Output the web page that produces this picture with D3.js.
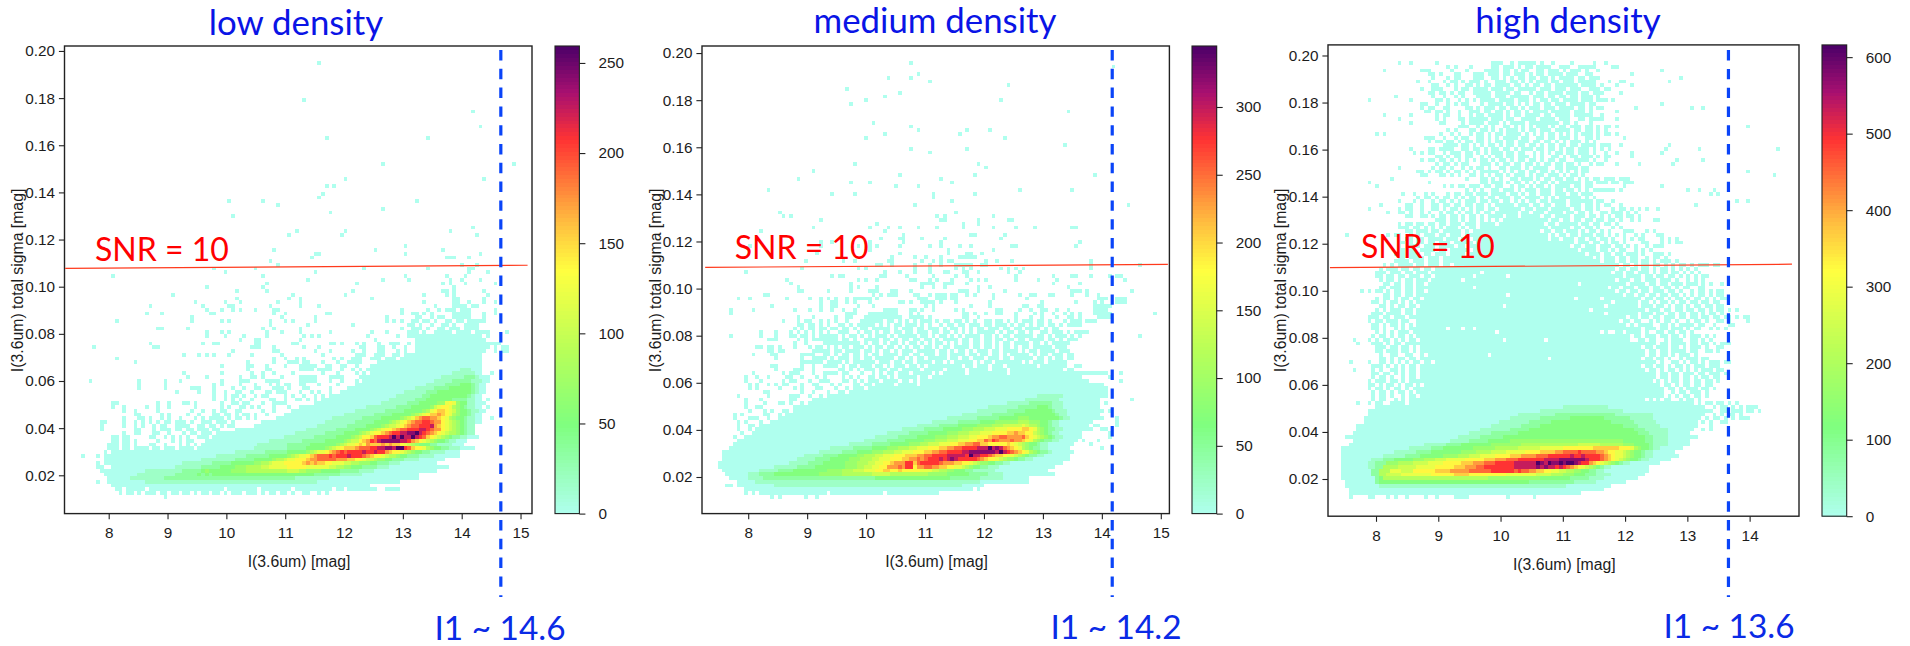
<!DOCTYPE html>
<html>
<head>
<meta charset="utf-8">
<script src="https://cdn.jsdelivr.net/npm/d3@7"></script>
<style>
  body { margin: 0; background: #fff; }
  svg { display: block; }
  .tick text, .axis-label { font-family: "Liberation Sans", Arial, sans-serif; fill: #1c1c1c; }
  .note { font-family: Lato, sans-serif; }
</style>
</head>
<body>
<script>
// Cells. Sparse rows: [row, col, col, ...] single count cells.
// Dense rows: [row, startCol, levels], levels are hex 0-f of the panel's top count, "." is empty, "0x12" repeats.
const xTicksLow = [8, 9, 10, 11, 12, 13, 14, 15];
const xTicksHigh = [8, 9, 10, 11, 12, 13, 14];
const yTicks = [0.02, 0.04, 0.06, 0.08, 0.10, 0.12, 0.14, 0.16, 0.18, 0.20];
const lowCountTicks = [0, 50, 100, 150, 200, 250];
const mediumCountTicks = [0, 50, 100, 150, 200, 250, 300];
const highCountTicks = [0, 100, 200, 300, 400, 500, 600];
const topCounts = [259.4, 345, 616];
const titles = ["low density", "medium density", "high density"];
const limitLabels = ["I1 ~ 14.6", "I1 ~ 14.2", "I1 ~ 13.6"];
const limits = [14.665, 14.176, 13.66];
const lowSnr = [[7.26, 0.1078], [15.12, 0.1091]];
const mediumSnr = [[7.27, 0.109], [15.12, 0.1103]];
const highSnr = [[7.26, 0.1098], [14.68, 0.1113]];

// binning: first mag, mag step, top sigma, sigma step
const lowBins = [7.2743, 0.06374, 0.2021, 0.001587];
const mediumBins = [7.2326, 0.06362, 0.2030, 0.001588];
const highBins = [7.2616, 0.06022, 0.2040, 0.00159];

const countStops = [0, 0.19, 0.35, 0.52, 0.62, 0.8, 0.9, 1];
const countColors = ["#afffee", "#7fff7f", "#b8ff58", "#ffff40", "#ffc040", "#ff3333", "#a81070", "#4a0068"];

const lowSparse = [
  [4,67],[14,63],[17,108],[21,110],[24,69,96],[31,84,119],[35,74,111],[37,69,71],[39,68],[40,67],[41,43,52,93],[42,56],[43,84],[44,70],[45,44],
  [48,108],[49,61,74,102],[50,59,73,109],[53,90],[54,55,82,100],[55,66,67,90,110],[56,65,101,102,103,107],[57,54],[58,56,105,109],
  [59,39,50,79,96,107,108],[60,42,66,107,112],[61,12,52,90,101,106],[62,64,84,91,102,105,110],[63,53,77,100,102,106,114],[64,37,52,103],
  [65,45,53,76,100,101,103,111],[66,28,60,74,95,101,103,112],[67,45,59,62,81,103,104,111],[68,34,42,46,56,62,95,103,104,107,111,114],
  [69,22,36,43,44,54,62,67,98,103,104,105,106,108,109],[70,37,41,44,46,50,55,56,89,96,99,101,102,103,105,106,107,114],
  [71,21,25,38,39,55,58,69,70,89,92,93,95,97,103,104,105,106,107,111,114],[72,33,57,66,85,93,94,97,99,100,103,104,105,106,107,111],
  [73,13,33,41,43,54,58,60,66,85,87],[74,54,64,76],[75,24,25,32,52,55,62],[76,37,41,43,53,57,62,70,81,85,117],[77,37,42,47,53,63,65,67,80,88],
  [78,46,50,51,62,82],[79,22,36,39,40,50,51,60,61,70,71,73,77,79,83,86,87,88],[80,7,23,24,49,50,51,55,63,67,78,79,83,84,87,90],
  [81,44,55,56,66,70,76,79,83,84,88],[82,31,35,37,39,43,49,57,68,77,78,79,82,83,84],[83,13,55,58,61,63,71,73,76,77,78,81,82,83],
  [84,18,48,55,59,60,61,63,64,68,72,75,76,77,78],[85,41,48,49,53,58,62,63,64,65,66,69,70,73,74,77],[86,48,53,54,62,63,64,65,67,68,69,70,73,76,78],
  [87,31,41,49,52,55,60,68,72,77,79,113],[88,32,37,46,49,50,52,57,62,63,64,65,66,70,71,72,73],[89,6,19,26,30,41,46,47,48,53,54,55,56,62,63,64,65,66,70,73,77],
  [90,19,26,39,41,46,50,54,56,58,59,62,63,67,72],[91,19,26,33,34,35,39,44,47,50,51,55,56,57,59,63,64,70],[92,29,35,39,42,45,46,49,53,54,56,57,58,62,65,67,70],
  [93,39,42,44,45,47,50,52,53,58,60,63,66,68],[94,39,42,44,46,49,54,55,58,61,62,64,66,112],[95,12,13,24,27,31,32,34,41,44,45,47,48,52,55,56,57,58,111],
  [96,12,15,21,24,27,34,41,43,46,47,49,51,55,59,112],[97,15,18,24,33,36,39,41,42,45,46,52,55,111],[98,18,19,25,27,32,35,39,40,42,43,45,47,48,50,53],
  [99,15,19,20,22,25,27,30,34,36,38,39,40,41,43,45,46,48,50,113],[100,9,10,15,18,20,22,24,26,27,29,30,31,33,36,37,38,40,41,42,44],
  [101,9,15,18,20,23,25,26,29,30,31,32,35,36,38,39,41,43,44],[102,9,18,19,23,25,26,27,29,30,32,33,35,36,37,39,40],[103,15,18,19,23,24,27,31,33,34,36,37,38],
  [104,12,13,15,16,22,23,26,28,30,32,35,36,37,39],[105,12,13,15,16,18,24,28,30,32,33,37,39],[106,11,12,13,15,16,18,22,23,26,30,32,34],
  [109,4,8],[111,8],[116,8],[120,26]
];

const lowDense = [
  [73,89,"0..00.00.0..00.00.00000"],[74,91,"00.0..0..00.0..0000"],[75,89,"0..000.0..00.000.0000"],[76,91,"000.0..00000.0000.0000"],
  [77,91,"0x20 .0"],[78,93,"0x19"],[79,91,"0.0x23"],[80,91,"..0x20 .0.00"],[81,90,"0..0x19 ..0.00"],[82,87,"00.0x21"],[83,85,"000.0x22"],
  [84,83,"0x28"],[85,81,"0x30"],[86,80,"0x25 1x3 0x3"],[87,81,"0x22 1x6 0x2"],[88,78,"0x22 1x6 2x3 1 0x3"],[89,79,"0x19 1x5 2x5 1x3 0x2"],
  [90,77,"0x19 1x5 2x4 3x3 2 1 0x2"],[91,75,"0x18 1x5 2x4 3x6 2 1 0x2"],[92,73,"0x17 1x6 2x3 3x9 2 1 0x2"],[93,70,"0x18 1x7 2x2 3x10 2 1 0x2"],
  [94,68,"0x18 1x7 2x3 3x7 2x4 1x2 0x2"],[95,66,"0x18 1x7 2x3 3x5 44 787 433 1100"],[96,62,"0x18 1x8 2x4 3x5 46 7887 5432 1100"],
  [97,60,"0x17 1x8 2x5 3x5 45 78998 76433 21100"],[98,58,"0x16 1x8 2x5 3x5 4567 899a98 75433 2100"],[99,56,"0x15 1x8 2x5 3x5 4567 9abbaa9 87543 321100"],
  [100,52,"0x17 1x8 2x5 3x4 4567 89abbccb aa8765 4321100"],[101,50,"0x17 1x8 2x5 3x4 4566 789abbcc cda987 6543211"],
  [102,45,"0x19 1x8 2x5 3x4 4567 889abb cccddc baa8 76543211"],[103,40,"0x21 1x8 2x5 3x4 4567 889abc cddee fdcba9 8765 543211"],
  [104,39,"0x19 1x8 2x6 3x4 456 889bcc cdfdfddfd cb987 65432 211000"],[105,38,"0x16 1x9 2x6 3x5 4566 89acb deeeeed dca98 76543 3211000"],
  [106,36,"0x15 1x8 2x6 3x7 4567 7898a99 9a9a998 7654 333221 111000"],
  [107,11,"000.00.0000.00.000.0000.00000"],[107,40,"0x10 1x9 2x5 3x5 45678 9 99ab bbcc ddeedf f cb98 875 4332 21110000"],
  [108,10,"0.0"],[108,13,"0x32 1x8 2x6 3x5 4567 789ab cbccccdc cdcca 9887 6543 3221 1110000"],
  [109,10,"0x30 1x8 2x6 3x5 4567 789a bbbcbcccdcc cba98 8765 54332 22111 10000000"],
  [110,10,"0x26 1x9 2x5 3x5 45567 78889 aabbbbba aa9988 76654 43322 211110 000000"],
  [111,10,"0x21 1x8 2x5 3x6 44556 777888 889a9a9 98877 766554 44332 2211100 00000000"],
  [112,8,"00..0x17 1x7 2x5 3x4 44455 55667777 7888887 777776 65544 33322 2211100 0x14"],
  [113,9,"0x12 1x10 2x5 34333 33344445 5x8 5566655 444433 33322222 111100 0x15"],
  [114,10,"0x9 1x10 2x6 32323333 3x20 33322222 22111111 0x15"],
  [115,11,"0x6 1x9 2x8 2x11 2x16 1x9 0x24"],
  [116,11,"0x10 1x18 1x17 1x11 0x22"],[117,12,"0x69"],[118,13,"00.00000.0x20 .0x8 .0x8 .0x10 .00.0x8 ..0x4"],
  [119,14,"0.00.0.000.00.00.00.0.00.00.0.000.000.0.00.00.0..00..0.0"]
];

const mediumSparse = [
  [4,55],[5,109],[7,57],[8,49,55],[9,60],[10,81],[11,38],[12,52],[13,48],[14,43,79],[15,39],[17,97],[20,45],[21,55],[22,57,70,76],[23,48,68],[24,43,80],
  [26,96],[27,55,70],[28,60],[31,40,73],[32,75],[33,29],[34,52,72,104],[35,25,63],[36,39,44,66],[37,51,57],[38,17,84,98],[39,34,40,61,72],[40,61],[41,66],
  [42,56,113],[44,20,67],[45,21,23,62,64,77],[46,31,63,64,73,81,82],[47,46,69,73],[48,29,44,49,52,57,62,69,77,83,88,98,99],[49,15,48],
  [50,53,71,72,80],[51,47,52,53,58,64,79],[52,31,34,44,53,63,100],[53,12,31,41,44,46,52,60,63,68,71,82,83,99],[54,44,65,77],[55,30,52,65,70,71,74],
  [56,50,56,59,63,68,69,70,71,72],[57,27,37,40,49,50,58,61,63,65,66,75,78,82,103],[58,46,47,50,56,60,63,67,68,69,70,71,74,75,103,116],
  [59,26,41,43,56,60,67,69,71,79,81,83,85,103],[60,11,48,52,56,60,64,65,69,70,73,81,84],[61,34,36,37,47,48,54,61,67,70,83,93,98,99,103,108,110,111],
  [62,22,41,43,46,55,56,60,62,66,71,73,75,83,89,94,112],[63,23,39,58,59,60,61,64,65,66,70,93,100],[64,25,39,41,46,58,61,64,73,76,97],
  [65,25,26,33,39,44,45,46,50,51,55,68,69,70,73,80,98,99,100,102,114],[66,16,17,45,47,49,50,51,56,57,60,62,63,64,66,67,70,72,77,84,87,88,92,93,98,102,105],
  [67,9,12,22,28,31,33,35,38,40,41,42,43,44,46,57,58,59,62,63,64,66,67,77,86,105,106,107,110,111,112],
  [68,31,34,35,38,40,44,52,53,55,58,59,60,61,63,67,76,90,99,104,106,110,111,112],[69,18,31,34,35,41,45,59,61,71,76,85,86,89,90,104,105,106,107,108],
  [70,7,13,24,28,31,34,37,40,48,49,50,51,55,56,58,61,67,69,78,79,84,87,90,91,94,97,104,105,106,107],
  [71,7,38,39,40,44,45,46,47,48,49,50,51,55,57,69,70,72,75,78,79,83,88,90,93,96,98,100,104,105,106,107,108,120],
  [72,25,29,35,38,39,43,44,45,46,47,48,49,50,51,52,55,56,57,58,60,69,70,73,83,87,90,94,97,98,100,105,106,107,108],
  [76,15,19,23,25],[77,7,15,19,23,24,116],[78,17,18,19,25,27,29,31,33],[79,24,27,33,34,36],[80,14,15,17,18,20,24,30],[81,17,18,20,21,29,30],
  [82,13,18,19,26,27,28,29],[83,19,26,29,30],[84,26,27,28,29,30,34,35],[85,18,19,26,29,32,33],[86,19,24,25,26,29],
  [87,13,21,23,24,25,29,32,33,34,35,37,38,42,111],[88,11,14,17,22,23,26,30,32,37,39,41,108],[89,11,15,21,23,24,28,31,32,33,37,38,40,111],
  [90,12,14,17,19,21,22,26,29,30,34,36,106],[91,12,14,20,24,26,30,31,35],[92,16,17,26,29,33],[93,9,17,23,24,25,28,31,107],[94,11,15,23,24,29,30,114],
  [95,11,16,20,21,23,26,107],[96,11,14,15,24,25],[97,12,16,18,21,22,108],[98,8,10,16,17,20],[99,8,12,13,14,17,103,106,110],[100,9,11,15,18,110],
  [101,9,12,13,15,104,105,110],[102,9,12,16,106,107],[103,10,13,14,108],[104,8,11,108],[105,9,101,105],[106,103],[107,106],[116,76,78,79,84],[117,73],[120,18,20,27,30]
];

const mediumDense = [
  [73,21,"0...0.00..0.0.0..0...000000.00.0.0.0.000.0.00.00.0.0..00.00.0.0.000.00.0...0.000.000"],
  [74,25,"00.00.0.0..00.0.00000.0.0.00.000.0.0..0.00.00.000.00.000.0.00.0.00.00.0.0000"],
  [75,24,"0.0.00.00.00.00.0.00.00000.0.000.00.000.0.00.0.0.00.000.00.00.0000.0.00"],
  [76,27,"0.0.0.0..000..0.00.0.00.00.00.000.00.00.0.0.0.00000.0.00.00.0..00.000.0.0000"],
  [77,26,"00.0.00000.0.00.0.0.000.0.00000.00.0.00.0.0.0000.00.0.00.00000.00.0.000.0.0"],
  [78,29,"00.0.00.00.0..0000.00.0.00.00.00.0.0000.00.00.00.00.00.00.0000.00.0.000"],
  [79,32,"0.00.00000.0.00.0.00.0.00.0.0.00.0.0.00.00.00.0.00.0000.00.0.00000"],
  [80,28,"0.00.0.0.00.000.0.00.00.0.0.00.00.0.00.0000.00.00.0.00.0.00.00000.000"],
  [81,31,"000.00.0000.00.0.00.0.000.00000.00.0.00.0.000.00.0000.0.00.0000.000"],
  [82,32,"00.0.00.00.0.00.0000.00.00.000.00.0000.00.00.00.0.00000.0.00.000.00"],
  [83,31,"00.0.000.00.00.00000.00.0.00.00000.00.00.000.000.00.00000.00.0.00.00"],
  [84,30,"00.0.00.0.000000.000.00.00.0000.00.0.00000.0.00.0000000.0.000.00000"],
  [85,34,"00.0.00.000.00.0.000.00.0.000000000.00.000.000.00000000.0x7 ..00"],
  [86,36,"00.0.0.000.00.00.00000.00000.00000.00000.0000.0x14 .00"],
  [87,45,"0.0.00.000.00000.0.0x6 .0x10 .0x26"],[88,44,"00.00.0.00000.00.0x40"],[89,42,"0.000.0000.00.0.0x45"],[90,40,"00.00.00000.00000.0x49"],
  [91,38,"0.000.0x64"],[92,36,"00.0x69"],[93,33,"0x56 1x7 0x11"],[94,30,"0x56 1x9 0x11"],[95,28,"0x53 1x6 2x6 1x3 0x10"],[96,26,"0x50 1x8 2x5 3x3 2 1x3 0x10"],
  [97,24,"0x49 1x8 2x5 3x7 2 1x3 0x10"],[98,22,"0x47 1x8 2x6 3x11 2 1x2 0x9"],[99,20,"0x45 1x8 2x6 3x5 4x3 3x8 2 1x2 0x8"],
  [100,18,"0x43 1x7 2x6 3x4 4x6 5x3 4x3 3x2 2 1x2 0x9"],[101,15,"0x42 1x6 2x5 3x5 4x4 5x3 6x5 76 5x2 4 3x2 2 1x2 0x8"],
  [102,14,"0x39 1x6 2x5 3x5 4x3 5x3 6x3 7x3 8x4 99 8 7 5 4 3 2x2 1x2 0x8"],[103,13,"0x36 1x6 2x5 3x5 4x3 5x3 6x3 7x3 8x4 99 a9 9 88 6543211 0x6"],
  [104,12,"0x34 1x6 2x5 3x5 4x3 5x3 6x3 7x2 8x3 9a abbaaaab 9 8 7 6 5 4 3 2 1 1 0x5"],[105,10,"0x33 1x6 2x5 3x5 4x3 5x3 6x3 7x3 88 99 bacbaaabaa 9 8 7 5 4 3 2 2 1 1 0x5"],
  [106,8,"0x31 1x6 2x5 3x5 4x3 55 6x3 7x3 88 99 aa bb 998 88889 876 5433211 0x7"],[107,7,"0x27 1x6 2x5 3x4 4x3 5x3 66 7x3 8x3 99 aa bb ccccdd dfded ba98 75432211 0x6"],
  [108,5,"0x26 1x6 2x4 3x4 4x3 5x3 66 7x3 8x3 99 aa bb ccc cd de eeeee edf dcba98 7543221 0x6"],[109,5,"0x22 1x5 2x4 3x5 44 5x3 66 7x3 8x3 9x3 aa bb cccc ddd ddcfddccba 99877 6543 2211 0x7"],
  [110,5,"0x20 1x5 2x4 3x5 4x3 5x3 66 7x3 8x3 99 aa bab ccc dc ded ccccc ba 9887 654432211 0x10"],[111,4,"0x19 1x5 2x4 3x6 4x3 5x3 66 77 88 9a aa cc 9b ccccc baaa9 98876 544332211 0x14"],
  [112,4,"0x15 1x6 2x5 3x8 4x3 55 66 77 88 aaa ba cc 8aabb aa998 87765 43322111 0x15"],[113,5,"0x10 1x5 2x4 3x9 4x4 5x3 6x3 7x3 88 99 889 88888 7776 6 554433322 1x6 0x14"],
  [114,6,"0x6 1x3 2x4 3x12 4x6 5x8 6x5 5x10 4x5 3x6 2x5 1x4 0x14"],[115,7,"0x5 1x4 2x30 3x20 2x8 1x6 0x7"],[116,9,"0x5 1x20 1x40 0x13"],
  [117,6,"00.0x10 1x50 0x6"],[118,11,"0x61 .0"],[119,11,"0.0.0x18 .0x14 .0x14"]
];

const highSparse = [
  [6,14,88],[7,80],[8,93],[9,78,90],[10,80],[11,24,27,74],[12,77],[13,17],[14,10,21,73],[15,88],[16,24,72,81,96,99],[17,25,76],[18,14,21],[19,18,76],[20,21],
  [21,76,111],[23,12,14,76],[24,26,78],[26,74,77,90],[27,26,89,98,119],[28,22,76,80,88],[29,80],[30,24,92,99],[31,76,82,91],[32,18],[33,24,26,111],[34,118],
  [35,16],[36,10,26,76,78],[37,12,78,88],[38,102,95,98],[39,19,101,103],[41,108,111],[42,13,97],[43,10],[50,4]
];

const highDense = [
  [4,18,"0..0......0..............000..0.00000.0..0....0.....0..0"],
  [5,29,"..0.0...0.....00.000.0.00.0000..000..00000....00"],
  [6,24,"000.....0...0....0000.00.0.00..00.000.0.000.0..0"],
  [7,24,"..00.0...00...000.000.00.000.0.00.0000.000..00"],
  [8,27,"0...0.00...000..00.0.0.00.00.00.0.0000.00.000"],
  [9,23,"0..0...0.00.0.000.0..000.00.0.0.000.00.000.00000...0..0"],
  [10,27,"00..0.0..00.0.00.0000.00.0.00.00.000000.0000.0...0"],
  [11,24,"0...00...0.00.0000.000.00.00000.000.000.000..000.0"],
  [12,26,"00.00.0.00..00000.0000.00..0.00.0000.000.00.000.."],
  [13,27,"0..0..0.0...0000.000.00000.000.00.00.00.000.0"],
  [14,28,"00.0..0.0.0.0000.0000.000.0.00.00.0000.000.00..0"],
  [15,24,"00..0..0.0.00...0.0000.00.0.0.00.00.000.0000.00"],
  [16,26,"00..00....00.0.000.00.00.0.000.000.0000.00.0.0"],
  [17,26,"0.00.0..0..000.00.00.0.00.0.0000.00000.000.0"],
  [18,28,"0.00..0..0.00.0000.0.00.0000.00.0000.00000..0"],
  [19,28,"0.0...00.00000.000.00..0000.0000.000..00.0000"],
  [20,29,"00....0.0000.000.0.0000.00000000.00.0...0"],
  [21,34,"000..0.0.0..00.0.0.0.000.0.00.000.00.0.00"],
  [22,31,"0.0...00.00.0.0.000.0.00.000.0000.00.00.0.0"],
  [23,29,"0..0.0..0.00.0.00.0000.0.0.0.00.0.0.0.000.0.00"],
  [24,25,"000..0..0.00..00.0.0.0000.00..00.00.000.0..00.0"],
  [25,26,"0.00.00.0.00.00.0.00.00.000.00.00.0.0.000.0.0"],
  [26,30,"0000.00.0.0.00.0.00.00.00.0.00.00.00.0000.000"],
  [27,21,"0....00.0000..00.00.0.00.00.0.000.00.00.0.00.000.0.0.0"],
  [28,24,"0.00..0.000.00.0.0.000.00.00..0.0.0.00.00.000.0..0"],
  [29,28,"00.0.00.00..0.0.00.00.000.0.0..00.0.00.000.0.00"],
  [30,24,"0.00.00.0.0.0.0.00.0.00.0.00.00.0.00.00..0000.0..0"],
  [31,28,"0.00.0.00...000.0.00.00.00.0.00.00.00.0..0.00"],
  [32,27,"0.00.0..0.0.00.0..00.000.0.0000..00.000.00"],
  [33,23,"0..0.00.0.00.0.0.00000.0.0.00.00.00.0.0.0.0.00"],
  [34,24,"00...00.0.0..00.0.0.00.0.000.0.00.000.0.00.0"],
  [35,36,"0...00.0.0..00.000.0.00.00.00.0.0.00.000.000"],
  [36,40,"00.000.0.00.0.0.00.0.000000.00.000.0..000"],
  [37,30,"0.0.00.000.00.00..0.00.0.00.0.0000.00.00"],
  [38,36,"0.0.0..00.000.0.000.000.00.00.0.0.000000.0"],
  [39,22,"0..0.0...0.00.00.000.0000.00.0.00.000.000.00.000"],
  [40,23,"0.00.0.00.0.0.00.0.00.000.00.0000.0.0.000000.0.0"],
  [41,18,"0...0.0..0.00.0.0.000.00.00.00.0.0.00.00.0000.000000.00..0"],
  [42,20,"00..0..00.00.00.00.00.0.00000.000.00.00.000.000.00.0.00..0"],
  [43,18,"0.00..0..00.0.00.0.0.00.00.000000.00.000.00000.00.00.0...0.00.0.0.0..0"],
  [44,15,"0..00.0..0.0..0.00.0.00.0.00.000000.00.000.0000.00.00.0..00.000.0.0"],
  [45,20,"00..00.0.00.00.0.00.0.0000.000.00000.00.0000.000.00.0.0.00.00.0"],
  [46,28,"000.00.0.00.0.0.0.0x12 .00.00.00.00.00.00.0..0.0...00"],
  [47,18,"0.00.00.00.00.000.000.0000.0x12 .00.00000.00.00.00.0"],
  [48,18,"000.00.0.0.0.000.0.00.0x18 .00000.00.00.0...0.0"],
  [49,20,"00.000.00.00000.0.00000x14 .00.00.000.0.00.0.0...000...0.0"],
  [50,15,"0.00..0.0.000.00.000.0x22 .0.00.00.000.00.0.0.0..0.0...00"],
  [51,18,"0.00.00.0000.000.00.0x20 .00.000.00.00.00.0..0.0.00....0.0.0"],
  [52,18,"00.0.00.00.000.00000.0x26 .000.00.0.00.0....00...0.0.00"],
  [53,18,"0..000.000.0000.00.000x25 .00.000.000.00.0.0..0.000"],
  [54,18,"00.00.0000.00.00000.0x28 .0000.00.0.00..0.0.0"],
  [55,17,"000.000.00.000.0000.0x31 .000.00.00.000.0..000.0"],
  [56,18,"00.0000.000.0x40 .0.000.00.00..0.00.0"],
  [57,17,"0000.000.000.00000x38 .000.00.00.00.0.000.0"],
  [58,14,"0.0.0000.00.000.00.0x44 .00.0.00.00.0.0.00.0.000.00"],
  [59,13,"0.000.00.00.00.000x46 .00.00.00.0.00.0.0.0.0"],
  [60,12,"000.000.00.000.0x13 .0x34 .00.00.000.0.00.00.0.0.0"],
  [61,12,"00.00.00.000.00.0x10 .0x8 .0x30 .0000.00.00.00.0.0.0.00"],
  [62,13,"0.00.0.00.000.0x8 .0x30 0x10 .000.00.000.000.0..0.0.0"],
  [63,14,"00.00.00.00.0x40 .0x12 .0000.00.00.000.000.0.0..0"],
  [64,13,"00.000.00.0x15 .0x35 .00.000.000.00.00.0.00..00"],
  [65,8,"0.0.00.0.00.00.00.0x50 .00.00.00.000.00.0..0.00.0.00"],
  [66,14,"00.00.00.0x24 .0x30 .00.00.00.00.00.0.0.00.0.00"],
  [67,12,"0.00.0.00.00.0x40 .0x6 .0x10 .00.00.0.00.0.00.0.0.00"],
  [68,11,"00.0.00.0.0.0x52 .0x6 .00.0.00.0.00.00.00.00"],
  [69,13,"00.0.00.00.0x22 .0x26 .0x8 .000.00.0.00.0.00.00.00"],
  [70,12,"0.0.000.00.0x46 .0x10 0x4 .000.00.00.00.00.0.00.0.0"],
  [71,11,"000.0000.00.0x50 .0x8 .000.00.00.00.00.0.00.0"],
  [72,10,"000.00.000.0x58 .00.00.00.000.00.00.00.00.00.0.00"],
  [73,10,"0.00.000.00.. 0x54 .00.00..0.0.00.0..0.00.0..00.0....0"],
  [74,10,".00.0.00.0.0. 0x56 .0.0000..00.0.0000.00..0...00"],
  [75,11,"00.0..0.0.00 0x8 .0x3 .0x2 .0x44 .000.00.000.0.00..0.0.0"],
  [76,12,"0.0.0.000.0 0x21 .0x27 .0..00.0000.0..00.00.00.0"],
  [77,11,"0.00.0.00.0.0 0x56 .00.000.00.00.0.000.0.0"],
  [78,6,"0...0.0.00.0.0.00.00 0x20 .0x10 .0x22 ..00.00..0.000..00.0.0"],
  [79,7,"0...000.0.00.0 0x58 0x8 .00.0000.00.00.0.000"],
  [80,12,"000.00.00.0.0 0x58 .00.000.00.0.000.0..00"],
  [81,12,"00.000.00.0.00 0x58 .00.00.0000.00..00.0"],
  [82,13,"0..00..00..0.0 0x15 .0x40 0.00.00.0.000.0"],
  [83,13,"00.0.00.00.00 0x32 .0x24 .00.00.0..0.000.00"],
  [84,5,"0....0..00.0.0.0.00.00.0 0x58 .0..00.0.00.0.000.00"],
  [85,11,"000.0.0.0.00.0 0x58 .00.00.0.00.0.000.000"],
  [86,6,"0....0.0..00.0.00.00 0x58 .00.0.00.0.0.0.000.00"],
  [87,11,"00.00.0.0.00.0 0x62 .00.00.000.00.000.0"],
  [88,11,"0.00.0..0.00.000 0x60 .00.00.00.0.00.00"],
  [89,10,"0.000.00.0.000 0x62 .0.0.00.00.00.00.0"],
  [90,10,"00.0.00.0.00.0.0 0x62 .00.0.00.00.00"],
  [91,10,"0.00.0.00.0.0 0x66 .00.0.000.00.0"],
  [92,11,"0.00.0.00.0.00 0x64 ..0.00.000.0"],
  [93,11,"0.00.0..0.00.0 0x64 .0.0.00.00.0"],
  [94,11,"0.00..0.0.0 0x62 .0.0.00..0.00.0"],
  [95,7,"0..0.00.. 0x4 .0x76 .0.00.00.0.0"],
  [96,12,"0x50 1x12 0x26 ..0.00.0.0.000"],[97,10,"0x46 1x22 0x24 ..00.000.00.0"],[98,10,"0x40 1x10 2x16 1x10 0x14 ..0.0.00.0"],
  [99,9,"0x39 1x8 2x8 3x9 2x7 1x6 0x13 .0.00.0.0.000"],[100,9,"0x36 1x8 2x6 3x16 2x6 1x6 0x11 .0.0..00"],
  [101,7,"0x36 1x8 2x5 3x22 2x4 1x6 0x10 ...0"],[102,7,"0x33 1x8 2x5 3x28 2x3 1x6 0x7 ..0.0"],[103,6,"0x31 1x6 2x7 3x32 2x3 1x5 0x6"],
  [104,4,"0x30 1x6 2x6 3x38 2x2 1x4 0x8"],[105,6,"0x26 1x5 2x5 3x6 4x30 3x6 2x2 1x4 0x6"],
  [106,5,"0x20 1x6 2x4 3x8 4x8 5x15 6x6 5x6 4x3 3x4 2 1x4 0x6"],
  [107,3,"0x18 1x6 2x3 3x8 4x6 5x6 6x6 7x6 8x8 9x7 8x3 7 5 4 3 3 2 1 1 0x6"],
  [108,3,"0x14 1x6 2x4 3x8 4x4 5x4 6x4 7x5 8x4 9x4 aabbbbcbbbbaa 988776543 3211 0x6"],
  [109,3,"0x11 1x6 2x4 3x6 4x4 5x3 6x3 7x4 8x4 9x3 ax4 bx3 cx6 dccdccc cb a9877654 33211 0x7"],
  [110,3,"0x8 1x3 2x3 3x5 4x3 5x3 6x3 7x5 8x5 9x3 ax3 bx3 cx5 ccddd deeeeee edccc ba987 65433211 0x6"],
  [111,3,"0x7 11 222 444 5x4 6x4 7x4 8x5 999 aaa bbb cx5 dx6 fedfeefeffed cca 987 6543211 0x8"],
  [112,3,"0x7 11 22 5x4 6x5 7x5 8x5 999 aaa bb cx8 dx6 ededdcdc ba98 7654321 1 0x10"],
  [113,3,"0x8 22 555 777 666 8x6 9x4 ax5 bx6 cx6 bcbbaa 998877 665544 332211 0x12"],
  [114,3,"0x8 22 55 6x4 7x8 8x6 9x4 8x10 7x8 6x4 555 444 333 222 1x4 0x9"],
  [115,3,"0x9 23 5x28 4x14 3x8 2x5 1x4 0x9"],[116,4,"0x8 2 3x40 2x12 1x6 0x8"],[117,4,"0x9 1x50 0x12"],[118,5,"0x68"],[119,5,"0x62"],
  [120,5,"0....00...0.0..0....0..0....0000..........0......0"]
];

const panels = [
  { bins: lowBins, sparse: lowSparse, dense: lowDense, snr: lowSnr, xTicks: xTicksLow, countTicks: lowCountTicks,
    left: 64.5, right: 532, top: 46, bottom: 513.6, xDomain: [7.2487, 15.195], yDomain: [0.2021, 0.00375],
    barLeft: 555, barRight: 579.4, dashEnds: [0.2004, -0.0316], yLabelX: 17.5, titleX: 296, titleY: 35, limitX: 500, limitY: 639.5, snrX: 95, snrY: 261 },
  { bins: mediumBins, sparse: mediumSparse, dense: mediumDense, snr: mediumSnr, xTicks: xTicksLow, countTicks: mediumCountTicks,
    left: 702, right: 1169.4, top: 46, bottom: 513.6, xDomain: [7.216, 15.146], yDomain: [0.2030, 0.00446],
    barLeft: 1192, barRight: 1216.7, dashEnds: [0.2013, -0.0309], yLabelX: 655, titleX: 935, titleY: 33, limitX: 1116, limitY: 639, snrX: 734.7, snrY: 259 },
  { bins: highBins, sparse: highSparse, dense: highDense, snr: highSnr, xTicks: xTicksHigh, countTicks: highCountTicks,
    left: 1328, right: 1799, top: 44.9, bottom: 516.2, xDomain: [7.229, 14.793], yDomain: [0.2045, 0.00419],
    barLeft: 1822, barRight: 1846.7, dashEnds: [0.2023, -0.0302], yLabelX: 1280, titleX: 1568, titleY: 33, limitX: 1729, limitY: 637.5, snrX: 1361, snrY: 257.7 }
];

// "0x12" means twelve zeros, spaces are only there for reading
const expand = (s) => s.replace(/(\S)x(\d+)/g, (m, c, n) => c.repeat(+n)).replace(/ /g, "");

// turn both row formats into {row, col, level}
const toCells = (sparse, dense) => {
  const cells = [];
  sparse.forEach(([row, ...cols]) => cols.forEach((col) => cells.push({ row, col, level: 0 })));
  dense.forEach(([row, start, levels]) => {
    Array.from(expand(levels)).forEach((ch, k) => {
      if (ch !== ".") cells.push({ row, col: start + k, level: parseInt(ch, 16) });
    });
  });
  return cells;
};

const svg = d3.select("body").append("svg").attr("width", 1910).attr("height", 646);

panels.forEach((p, i) => {
  const x = d3.scaleLinear().domain(p.xDomain).range([p.left, p.right]);
  const y = d3.scaleLinear().domain(p.yDomain).range([p.top, p.bottom]);
  const top = topCounts[i];
  const color = d3.scaleLinear().domain(countStops.map((s) => s * top)).range(countColors);
  const [mag0, dMag, sigma0, dSigma] = p.bins;
  const g = svg.append("g");

  g.append("g").attr("shape-rendering", "crispEdges")
    .selectAll("rect")
    .data(toCells(p.sparse, p.dense))
    .join("rect")
    .attr("x", (d) => x(mag0 + d.col * dMag))
    .attr("y", (d) => y(sigma0 - d.row * dSigma))
    .attr("width", x(mag0 + dMag) - x(mag0))
    .attr("height", y(sigma0 - dSigma) - y(sigma0))
    .attr("fill", (d) => color(d.level / 15 * top));

  // axes
  const xAxis = g.append("g").attr("transform", `translate(0,${p.bottom})`)
    .call(d3.axisBottom(x).tickValues(p.xTicks).tickFormat(d3.format("d")).tickSize(5.6).tickPadding(8));
  const yAxis = g.append("g").attr("transform", `translate(${p.left},0)`)
    .call(d3.axisLeft(y).tickValues(yTicks).tickFormat(d3.format(".2f")).tickSize(5.6).tickPadding(4));
  [xAxis, yAxis].forEach((a) => {
    a.select(".domain").remove();
    a.selectAll(".tick line").attr("stroke", "#222").attr("stroke-width", 1.1);
    a.selectAll(".tick text").style("font-size", "15.3px");
  });
  g.append("rect").attr("x", p.left).attr("y", p.top)
    .attr("width", p.right - p.left).attr("height", p.bottom - p.top)
    .attr("fill", "none").attr("stroke", "#222").attr("stroke-width", 1.4);

  g.append("text").attr("class", "axis-label")
    .attr("x", (p.left + p.right) / 2 + 0.8).attr("y", p.bottom + 53.5)
    .attr("text-anchor", "middle").style("font-size", "15.8px").text("I(3.6um) [mag]");
  g.append("text").attr("class", "axis-label")
    .attr("transform", `translate(${p.yLabelX + 5.5},280.4) rotate(-90)`)
    .attr("text-anchor", "middle").style("font-size", "15.8px").text("I(3.6um) total sigma [mag]");

  // colour bar
  const barY = d3.scaleLinear().domain([0, top]).range([p.bottom, p.top]);
  const steps = d3.range(0, top, top / 120);
  g.append("g").attr("shape-rendering", "crispEdges")
    .selectAll("rect")
    .data(steps)
    .join("rect")
    .attr("x", p.barLeft)
    .attr("y", (d) => barY(d + top / 120))
    .attr("width", p.barRight - p.barLeft)
    .attr("height", barY(0) - barY(top / 120) + 0.5)
    .attr("fill", (d) => color(d + top / 240));
  g.append("rect").attr("x", p.barLeft).attr("y", p.top)
    .attr("width", p.barRight - p.barLeft).attr("height", p.bottom - p.top)
    .attr("fill", "none").attr("stroke", "#222").attr("stroke-width", 1.1);
  const barAxis = g.append("g").attr("transform", `translate(${p.barRight},0)`)
    .call(d3.axisRight(barY).tickValues(p.countTicks).tickSize(6).tickPadding(13));
  barAxis.select(".domain").remove();
  barAxis.selectAll(".tick line").attr("stroke", "#222").attr("stroke-width", 1.1);
  barAxis.selectAll(".tick text").style("font-size", "15.3px");

  // SNR line and depth limit
  g.append("path")
    .attr("d", d3.line().x((d) => x(d[0])).y((d) => y(d[1]))(p.snr))
    .attr("fill", "none").attr("stroke", "#ff3a1c").attr("stroke-width", 1.2);
  g.append("line")
    .attr("x1", x(limits[i])).attr("x2", x(limits[i]))
    .attr("y1", y(p.dashEnds[0])).attr("y2", y(p.dashEnds[1]))
    .attr("stroke", "#0a44f8").attr("stroke-width", 3.2).attr("stroke-dasharray", "10.4 8.4");

  g.append("text").attr("class", "note").attr("x", p.snrX).attr("y", p.snrY)
    .attr("fill", "#ff0000").style("font-size", "32px").text("SNR = 10");
  g.append("text").attr("class", "note").attr("x", p.titleX).attr("y", p.titleY)
    .attr("text-anchor", "middle").attr("fill", "#0a14e6").style("font-size", "34.8px").text(titles[i]);
  g.append("text").attr("class", "note").attr("x", p.limitX).attr("y", p.limitY)
    .attr("text-anchor", "middle").attr("fill", "#0a2ae6").style("font-size", "33.4px").text(limitLabels[i]);
});
</script>
</body>
</html>
